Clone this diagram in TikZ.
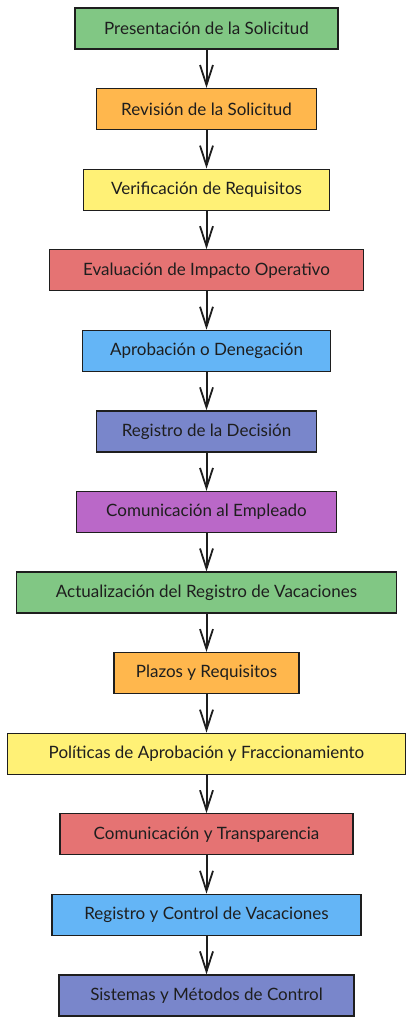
\documentclass[tikz,border=0pt]{standalone}
\usepackage{fontspec}
\setmainfont{Lato}
\usetikzlibrary{arrows.meta,positioning}
\definecolor{cgreen}{HTML}{81C784}
\definecolor{corange}{HTML}{FFB74D}
\definecolor{cyellow}{HTML}{FFF176}
\definecolor{cred}{HTML}{E57373}
\definecolor{cblue}{HTML}{64B5F6}
\definecolor{cindigo}{HTML}{7986CB}
\definecolor{cpurple}{HTML}{BA68C8}
\definecolor{ink}{HTML}{1E1E1E}
\tikzset{
  paso/.style={draw=ink, line width=1.3pt, minimum height=41pt, inner xsep=4pt,
    font=\fontsize{17}{19}\selectfont, text=ink},
  flecha/.style={-{Straight Barb[length=20pt,width=13pt,line width=1.8pt]}, line width=2pt, draw=ink}
}
\begin{document}
\begin{tikzpicture}[x=1pt,y=-1pt,node distance=80.58pt,on grid]
\useasboundingbox (0,0) rectangle (414,1024);
\node[paso, fill=cgreen, minimum width=263pt] (pres) at (206.5,28.5) {Presentación de la Solicitud};
\node[paso, fill=corange, minimum width=220pt] (rev) [below=of pres] {Revisión de la Solicitud};
\node[paso, fill=cyellow, minimum width=246pt] (verif) [below=of rev] {Verificación de Requisitos};
\node[paso, fill=cred, minimum width=314pt] (eval) [below=of verif] {Evaluación de Impacto Operativo};
\node[paso, fill=cblue, minimum width=248pt] (aprob) [below=of eval] {Aprobación o Denegación};
\node[paso, fill=cindigo, minimum width=220pt] (regdec) [below=of aprob] {Registro de la Decisión};
\node[paso, fill=cpurple, minimum width=260pt] (comemp) [below=of regdec] {Comunicación al Empleado};
\node[paso, fill=cgreen, minimum width=380pt] (actual) [below=of comemp] {Actualización del Registro de Vacaciones};
\node[paso, fill=corange, minimum width=185pt] (plazos) [below=of actual] {Plazos y Requisitos};
\node[paso, fill=cyellow, minimum width=398pt] (polit) [below=of plazos] {Políticas de Aprobación y Fraccionamiento};
\node[paso, fill=cred, minimum width=293pt] (comtr) [below=of polit] {Comunicación y Transparencia};
\node[paso, fill=cblue, minimum width=309pt] (regctl) [below=of comtr] {Registro y Control de Vacaciones};
\node[paso, fill=cindigo, minimum width=295pt] (sist) [below=of regctl] {Sistemas y Métodos de Control};
\foreach \a/\b in {pres/rev, rev/verif, verif/eval, eval/aprob, aprob/regdec, regdec/comemp,
  comemp/actual, actual/plazos, plazos/polit, polit/comtr, comtr/regctl, regctl/sist}
  \draw[flecha] (\a) -- (\b);
\end{tikzpicture}
\end{document}
